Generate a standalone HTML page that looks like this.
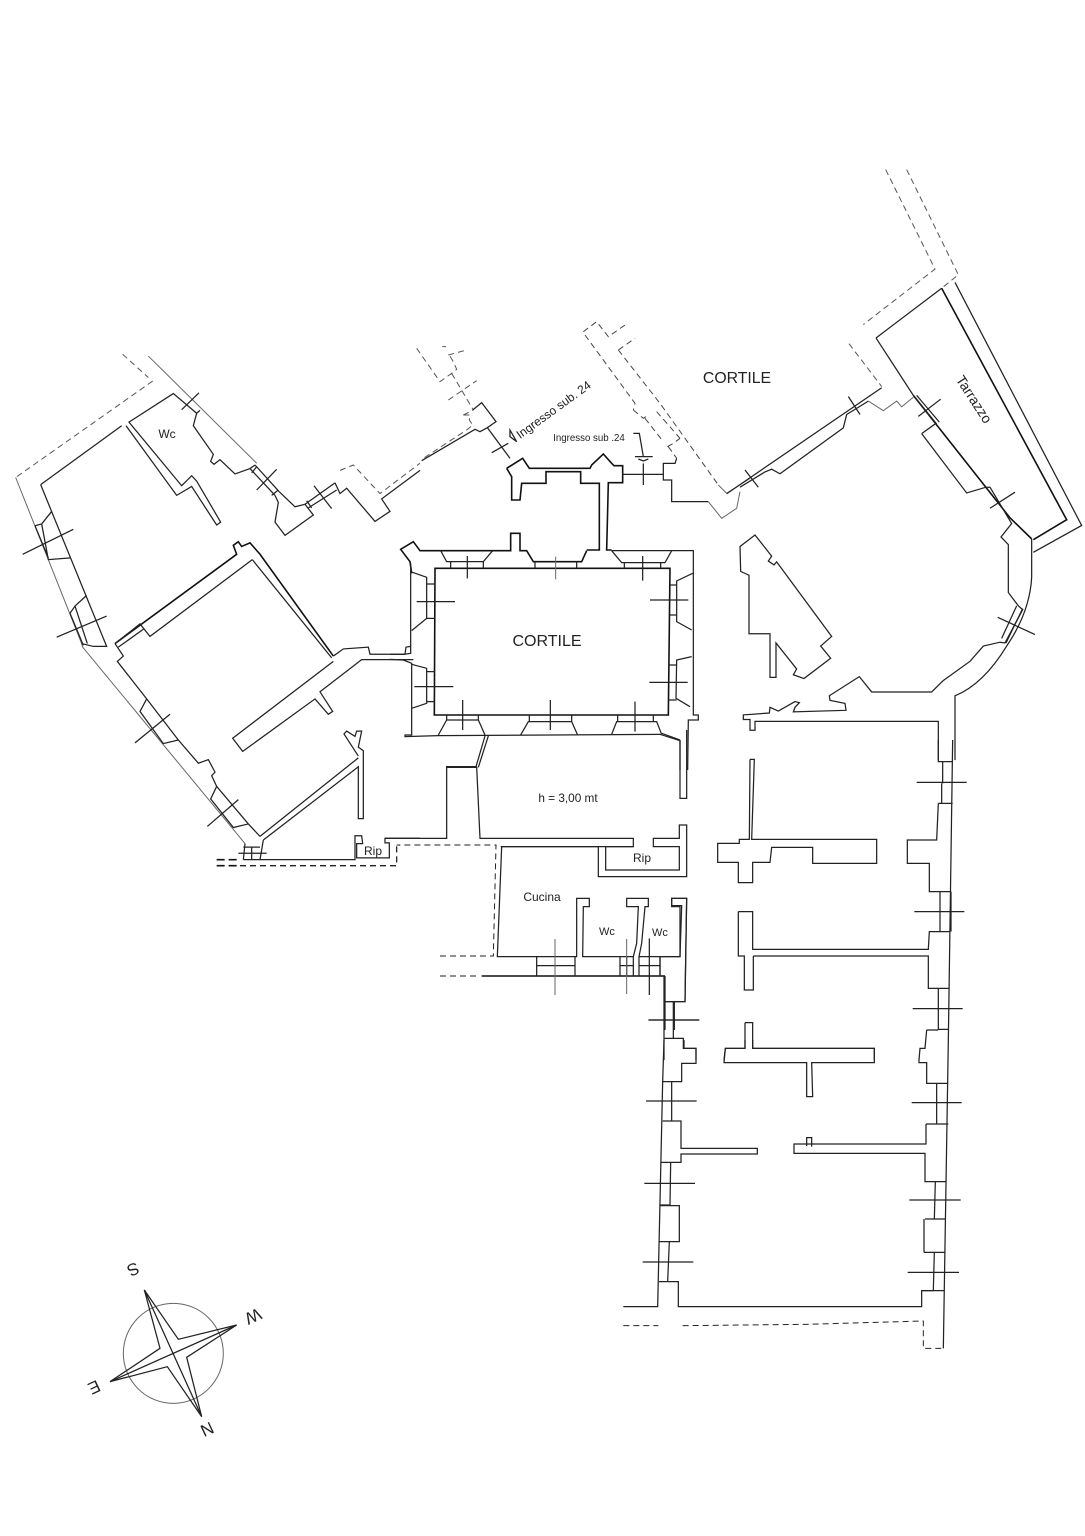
<!DOCTYPE html>
<html><head><meta charset="utf-8"><style>
html,body{margin:0;padding:0;background:#fff}
svg{display:block}
path{fill:none;vector-effect:non-scaling-stroke;stroke-linejoin:miter}
.w path,path.w{stroke:#222;stroke-width:1.25}
path.t{stroke:#666;stroke-width:1}
path.d{stroke:#555;stroke-width:1;stroke-dasharray:6 4}
path.k{stroke:#111;stroke-width:1.6}
text{font-family:"Liberation Sans",sans-serif;fill:#222;text-anchor:middle}
</style></head><body>
<svg width="1085" height="1536" viewBox="0 0 1085 1536" xmlns="http://www.w3.org/2000/svg">
<rect width="1085" height="1536" fill="#fff"/>

<g class="w" transform="translate(0,340) scale(.33333,.35714)">
<path class="d" d="M368,40L445,105M458,115L47,385"/>
<path class="t" d="M445,45L770,345"/>
<path class="t" d="M47,385L245,850L248,860L735,1410"/>
<path d="M122,405L365,240M122,405L320,858L280,858L245,850"/>
<path d="M378,240L530,435L575,410L650,518L662,510L590,395L575,380L545,408L387,230L520,150L590,205L580,240L640,320L632,340L642,348L660,335L705,375L750,360L765,350"/>
<path d="M750,360L825,435M765,350L838,425M755,372L770,355M815,435L835,420M770,420L830,362M545,195L597,148M590,205L600,197"/>
<path d="M825,435L835,455L825,510L855,547L940,490L915,460L885,467L838,425"/>
<path d="M915,460L1005,400M925,470L1010,420M920,450L935,470M942,408L995,472M1005,400L1020,430L1040,415L1125,508L1170,480L1145,445L1260,365"/>
<path class="d" d="M1020,365L1060,350L1140,430L1260,345"/>
<path class="k" d="M345,850L710,600L700,575L715,565L725,578L750,568L780,600L1000,885"/>
<path d="M757,615L995,890M757,615L450,830L420,795L345,850M355,860L430,810"/>
<path d="M345,850L370,885L352,900L440,1005L535,1120L595,1185L625,1175L645,1210L635,1220L650,1250L745,1355L780,1390"/>
<path d="M440,1005L420,1040L490,1130L535,1120M650,1250L632,1285L700,1365L745,1355M405,1128L510,1048M622,1362L715,1287"/>
<path d="M155,480L125,515L145,615L212,610M105,520L125,515M105,520L145,610M68,600L220,530M260,715L225,745L262,850M210,765L250,855M225,745L210,765M170,832L320,773"/>
<path d="M1000,885L1030,865L1105,860L1110,880L1215,880L1218,860L1232,858M1000,900L698,1115L728,1152L945,1005L985,1048L998,1040L960,985L1085,895H1240"/>
<path d="M780,1390L1075,1170M790,1400L1075,1195V1340H1090V1150L1075,1140L1085,1095H1070L1065,1110L1040,1095L1032,1103L1075,1165"/>
<path d="M735,1410L730,1455M790,1400L780,1455H1065V1388H1085L1088,1410H1070V1450H1168V1408H1155V1395H1260"/>
<path d="M730,1420H780M730,1437H800M730,1455H780M755,1420V1455M715,1437H730"/>
<path class="k" d="M650,1472H710M650,1455H710" style="stroke-dasharray:8 4"/>
<path class="d" d="M720,1472L1190,1472V1415H1200" style="stroke-width:1.3;stroke:#222"/>
</g>

<!-- stair / dashed cluster top -->
<g class="w" transform="translate(410,330) scale(.33333)">
<path class="d" d="M20,55L90,155L125,130L140,118L130,95L115,70M97,50H108M115,75L170,60M125,130L190,240M115,210L200,152M160,255L190,240M160,255H180L178,270L188,285L170,300L40,385"/>
<path d="M188,240L215,218L258,275L232,293L210,305L195,298L35,392M232,293L300,385M245,368L295,340M300,300L320,335L300,320Z"/>
</g>

<g class="w" transform="translate(580,315) scale(.33333)">
<path class="d" d="M10,50L50,20L85,65L135,30M15,60L165,265L160,285M115,105L165,70M115,105L240,265L415,510M230,290L300,370M160,285L190,310L205,300M195,310L250,380M262,395L280,385L300,370M265,395L290,430" style="stroke:#444"/>
<path d="M290,430L285,445H250V495H275V560H385"/>
<path class="t" d="M385,560L425,610L470,580L480,530M415,510L440,535L510,490"/>
<path d="M130,478H250M190,445V510M160,355H178L190,425M165,425H218M175,432L190,438L205,432"/>
</g>

<g class="w" transform="translate(390,320) scale(.33333)">
<path class="k" d="M350,445L398,415L418,445H600L605,435L640,402L665,430L672,437H698V488H655L650,690H665"/>
<path class="k" d="M350,445L365,470V540H390L395,490H468V455H572V490H628V690H590"/>
<path class="k" d="M590,692L575,725H430L410,692H390V640H362V692H90L70,665L32,688L60,725L65,760"/>
<path class="k" d="M135,745H840L835,1185H133Z"/>
<path d="M62,730V1000L40,1003H0M0,1018L40,1020L65,1030V1245H45V1250L145,1247L810,1243L870,1262V1350"/>
<path d="M665,692H910V1185H925V1200H895L893,1350"/>
<path d="M152,692L170,725H280L308,692M182,725V745M280,725V745M232,708V775"/>
<path d="M435,725V745M560,725V745"/>
<path class="t" d="M497,710V778"/>
<path d="M665,692L695,728H825L845,692M703,728V745M812,728V745M758,708V782"/>
<path d="M62,755L110,772V895L65,932M110,792H135M110,895H135M80,845H195"/>
<path d="M65,1033L110,1045V1150L65,1165M110,1055H135M110,1145H135M73,1100H190"/>
<path d="M908,760L860,783V905L905,930M840,795H860M840,885H860M780,840H895"/>
<path d="M905,1010L860,1020L858,1135L900,1160M835,1035H860M835,1140H860M778,1087H893"/>
<path d="M145,1245L170,1200H265L285,1245M170,1185V1200M265,1185V1200M218,1140V1230"/>
<path d="M392,1245L415,1205H545L562,1243M418,1185V1205M545,1185V1205M481,1140V1230"/>
<path d="M665,1243L680,1205H800L815,1243M683,1185V1205M790,1185V1205M735,1145V1235"/>
<path d="M285,1248L258,1340M295,1248L265,1342M170,1342H262"/>
</g>

<g class="w" transform="translate(700,160) scale(.33333,.38270)">
<path class="d" d="M557,25L705,285L490,430M620,25L775,300L725,335M447,480L545,592"/>
<path d="M528,465L725,335"/>
<path class="k" d="M725,335L1100,940L1000,992"/>
<path d="M765,320L1145,955L1000,1025"/>
<path d="M528,465L640,615"/>
<path class="k" d="M640,615L930,935L995,990"/>
<path d="M650,615L718,685M645,620L710,690M655,670L722,625M870,910L945,868"/>
<path d="M665,715L705,690M665,715L800,870L858,855L870,855L935,950L903,985L925,1005V1130L955,1165L968,1175L915,1262L900,1260L850,1270L810,1310L730,1360L695,1390H515L478,1350L388,1400L390,1412L435,1420L438,1438L280,1442L285,1430L298,1418L285,1415L235,1440L210,1430L208,1445L130,1450V1462H150V1490H165V1467H715V1568"/>
<path d="M995,990V1090Q990,1180 920,1270Q850,1370 765,1400V1568"/>
<path d="M893,1195L1005,1240M950,1165L905,1250M968,1172L918,1262"/>
<path d="M545,595L80,872"/>
<path d="M505,630L440,665L430,700L240,820L215,808L195,815L120,855"/>
<path class="t" d="M505,630L550,655L590,630L605,645L640,620"/>
<path d="M445,618L480,665M135,810L175,855"/>
<path d="M120,1010L165,980L215,1035L205,1048L222,1058L230,1050L395,1245L362,1270L392,1302L312,1355L280,1345L290,1330L228,1262V1352H210V1238H147V1085L122,1075Z"/>
</g>

<g class="w" transform="translate(340,730)scale(.33333)">
<path d="M135,325H320V110H410M410,110L420,325H880V350H485L472,680H710V505H748V530H730L728,680H880L890,640L895,530H860V505H925V530H915L905,640L897,680H1020V530H995V505H1040L1035,815H975V738"/>
<path d="M482,350H775V440H1040V285H1018V325H940V350H1018V420H797V350H880"/>
<path class="k" d="M425,738H975"/>
<path d="M590,680V738M705,680V738M590,707H705M840,680V738M880,680V738M840,707H880M860,680V738M897,680V738M960,680V738M897,707H960M928,625V795"/>
<path class="t" d="M645,627V795M860,627V792"/>
<path class="d" d="M300,678H460L468,345H170M300,738H420" style="stroke:#222"/>
<path d="M1020,30V205H1040V0M965,10L1020,30"/>
<path d="M975,815V900M1003,815V900M925,870H1078"/>
</g>

<g class="w" transform="translate(620,740)scale(.33333)">
<path d="M390,58H403L395,298H770V370H578V322H455L450,367H398V428H355V367H293V310H358V298H388L390,58"/>
<path d="M355,515H398V628H925L928,575H990M400,648H925V745H988M355,515V648H373V750H400V648"/>
<path d="M375,848H398V925H763V960M375,848V925H316L312,960"/>
<path d="M998,0L985,900M955,0V65H998M968,65V130M965,130V190H998M955,190H965M955,190L950,300H862V370H928V455H993M960,455V575M993,455V575M890,127H1040M883,515H1033"/>
<path d="M955,745V868H985M920,870H955M878,806H1028M920,870L915,925H900L897,960"/>
<path d="M132,785H195L200,475H155V497H185L180,650H120V708H132M132,708V960M160,785V895H132M160,895H190V925H228V960M87,840H238"/>
</g>

<g class="w" transform="translate(620,1040)scale(.33333)">
<path d="M375,0V25H316L312,68H560V170H578L575,68H763V25H398V0"/>
<path d="M132,0L128,125L113,800H10M192,0V25H228V70H185V125H128M155,125V243H128M128,243H183V325H412V342H183V367H122M152,367L150,495H120M120,497H178V605H118M148,605L143,725H117M143,725H175V800H905V752H940M78,183H230M73,430H225M68,666H220"/>
<path d="M985,0L970,925M897,60L897,68H920V130H985M950,130V252H985M918,252H950M918,252V312H522V340H915V425H978M946,425L943,537M915,537H975M912,637V537M912,637H975M943,637L940,750M908,752H972M875,188H1025M868,480H1022M863,697H1017M560,318V293H575V320"/>
<path class="d" d="M10,857H115M188,857L560,853L910,843V925H975" style="stroke:#222"/>
</g>

<g class="w" transform="translate(80,1250)scale(.33333)">
<path class="t" d="M130,310a150,150 0 1,0 300,0a150,150 0 1,0 -300,0"/>
<path d="M193,120L295,268L470,225L320,322L365,500L262,350L90,395L240,295Z"/>
<path d="M193,120L365,500M90,395L470,225"/>
</g>

<text x="737" y="383" font-size="15.8">CORTILE</text>
<text x="547" y="646" font-size="16">CORTILE</text>
<text x="568" y="802" font-size="11.8">h = 3,00 mt</text>
<text x="167" y="438" font-size="12">Wc</text>
<text x="373" y="855" font-size="12">Rip</text>
<text x="642" y="862" font-size="12">Rip</text>
<text x="542" y="901" font-size="12">Cucina</text>
<text x="607" y="935" font-size="11">Wc</text>
<text x="660" y="936" font-size="11">Wc</text>
<text x="589" y="441" font-size="9.7">Ingresso sub .24</text>
<text transform="translate(556,413) rotate(-36)" font-size="12">Ingresso sub. 24</text>
<text transform="translate(970,402) rotate(57)" font-size="14">Tarrazzo</text>
<text transform="translate(133,1269) rotate(155)" font-size="17" dominant-baseline="central">S</text>
<text transform="translate(253,1316) rotate(155)" font-size="17" dominant-baseline="central">W</text>
<text transform="translate(94,1387) rotate(155)" font-size="17" dominant-baseline="central">E</text>
<text transform="translate(207,1429) rotate(155)" font-size="17" dominant-baseline="central">N</text>
</svg>
</body></html>
